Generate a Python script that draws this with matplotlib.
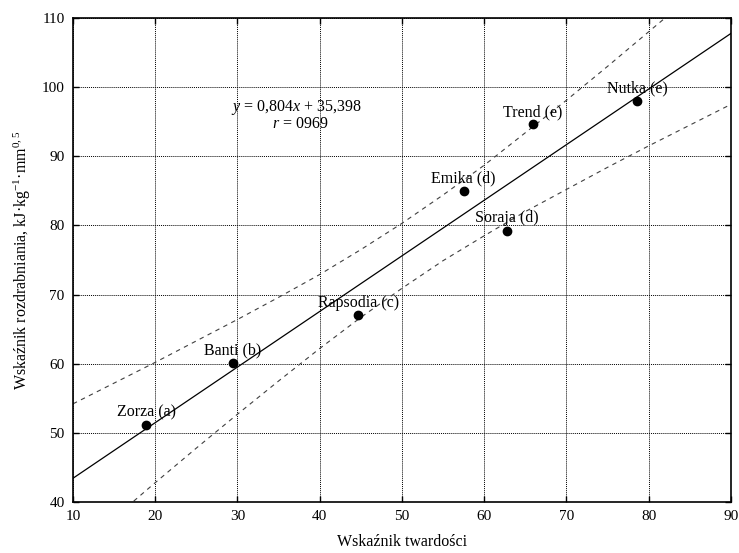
import matplotlib.pyplot as plt

plt.rcParams["font.family"] = "Liberation Serif"
plt.rcParams["mathtext.fontset"] = "custom"
plt.rcParams["mathtext.rm"] = "Liberation Serif"
plt.rcParams["mathtext.it"] = "Liberation Serif:italic"
plt.rcParams["font.size"] = 11.5

# odmiany pszenicy
names = ["Zorza (a)", "Banti (b)", "Rapsodia (c)", "Emika (d)", "Soraja (d)", "Trend (e)", "Nutka (e)"]
hardness = [18.9, 29.4, 44.7, 57.5, 62.8, 65.9, 78.6]
grinding = [51.1, 60.1, 67.0, 85.0, 79.2, 94.6, 98.0]

# regresja y = 0,804x + 35,398
slope = 0.804
intercept = 35.398

# pasy ufnosci (odczyt z wykresu)
band_x = [10, 15, 20, 25, 30, 35, 40, 45, 50, 55, 60, 65, 70, 75, 80, 85, 90]
band_upper = [54.2, 57.2, 60.2, 63.3, 66.4, 69.6, 72.9, 76.5, 80.3, 84.4, 88.7, 93.4, 98.1, 103.0, 108.0, 113.0, 118.1]
band_lower = [32.6, 37.7, 42.8, 47.8, 52.7, 57.5, 62.2, 66.7, 70.9, 74.9, 78.5, 82.0, 85.2, 88.4, 91.5, 94.5, 97.5]

x_ticks = [10, 20, 30, 40, 50, 60, 70, 80, 90]
y_ticks = [40, 50, 60, 70, 80, 90, 100, 110]

fig = plt.figure(figsize=(7.39, 5.53), dpi=100)
ax = fig.add_axes([0.0988, 0.0922, 0.8902, 0.8753])

ax.grid(True, color="black", linestyle=(0, (1, 1)), linewidth=0.7)
ax.set_axisbelow(True)

x_line = [10, 90]
y_line = [slope * x + intercept for x in x_line]
ax.plot(x_line, y_line, color="black", linewidth=0.9)

ax.plot(band_x, band_upper, color="0.25", linewidth=0.8, dashes=(4, 4))
ax.plot(band_x, band_lower, color="0.25", linewidth=0.8, dashes=(4, 4))

ax.plot(hardness, grinding, "o", color="black", markersize=6)

for name, x, y in zip(names, hardness, grinding):
    ax.annotate(name, (x, y), xytext=(0, 9), textcoords="offset points",
                ha="center", va="center", fontsize=11.5)

ax.text(37.2, 97.0, r"$y$ = 0,804$x$ + 35,398", ha="center", va="center", fontsize=11.5)
ax.text(37.6, 94.6, r"$r$ = 0969", ha="center", va="center", fontsize=11.5)

ax.set_xlim(10, 90)
ax.set_ylim(40, 110)
ax.set_xticks(x_ticks)
ax.set_yticks(y_ticks)
ax.tick_params(direction="in", length=4, width=1, top=True, right=True, labelsize=11, pad=6)
for spine in ax.spines.values():
    spine.set_linewidth(1.2)

ax.set_xlabel("Wskaźnik twardości", fontsize=11.5, labelpad=8)
ax.set_ylabel(r"Wskaźnik rozdrabniania, kJ·kg$^{-1}$·mm$^{0,5}$", fontsize=11.5, labelpad=6)

plt.savefig("out.png", dpi=100)
